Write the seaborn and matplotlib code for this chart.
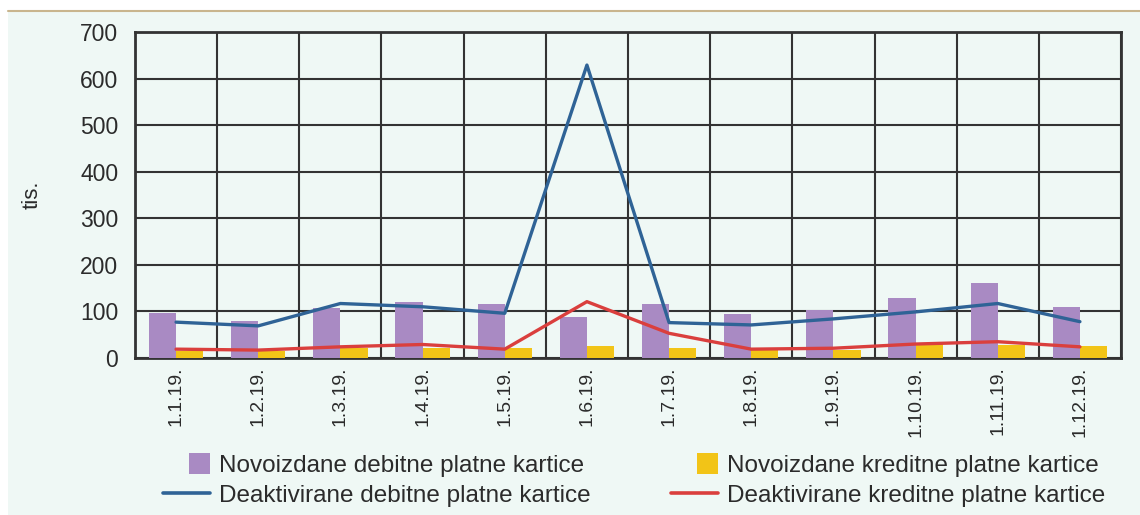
import matplotlib
matplotlib.use("Agg")
import matplotlib.pyplot as plt
import matplotlib.patches as mpatches
from matplotlib.lines import Line2D
from matplotlib.legend_handler import HandlerPatch
import seaborn as sns
import pandas as pd
import numpy as np

# Podaci (tis.)
mjeseci = ["1.1.19.", "1.2.19.", "1.3.19.", "1.4.19.", "1.5.19.", "1.6.19.",
           "1.7.19.", "1.8.19.", "1.9.19.", "1.10.19.", "1.11.19.", "1.12.19."]
novo_debitne = [96, 79, 107, 121, 115, 89, 117, 94, 103, 129, 162, 110]
novo_kreditne = [15, 15, 22, 22, 22, 26, 22, 21, 17, 30, 28, 26]
deakt_debitne = [77, 69, 117, 110, 96, 629, 76, 71, 84, 99, 117, 78]
deakt_kreditne = [19, 17, 24, 29, 19, 121, 53, 19, 21, 30, 35, 24]

lbl_nd = "Novoizdane debitne platne kartice"
lbl_nk = "Novoizdane kreditne platne kartice"
lbl_dd = "Deaktivirane debitne platne kartice"
lbl_dk = "Deaktivirane kreditne platne kartice"

c_purple = "#A98AC3"
c_yellow = "#F2C417"
c_blue = "#2F6396"
c_red = "#DA3F3D"
bg = "#EFF8F5"
ink = "#2b2b2b"

sns.set_theme(style="white")
plt.rcParams["font.family"] = ["Liberation Sans", "DejaVu Sans"]

bars = pd.DataFrame({
    "mjesec": mjeseci * 2,
    "vrijednost": novo_debitne + novo_kreditne,
    "serija": [lbl_nd] * len(mjeseci) + [lbl_nk] * len(mjeseci),
})

fig = plt.figure(figsize=(11.4, 5.15), dpi=100)
fig.patch.set_facecolor("white")
# pozadinski panel i gornja linija
fig.patches.append(mpatches.Rectangle((8 / 1140, 0), 1, 1 - 12 / 515, transform=fig.transFigure,
                                      facecolor=bg, edgecolor="none", zorder=-10))
fig.add_artist(Line2D([8 / 1140, 1], [1 - 11 / 515] * 2, transform=fig.transFigure,
                      color="#C9B58E", lw=1.5))

ax = fig.add_axes([135 / 1140, 1 - 358 / 515, (1121 - 135) / 1140, (358 - 32) / 515])
ax.set_facecolor(bg)

sns.barplot(data=bars, x="mjesec", y="vrijednost", hue="serija", order=mjeseci,
            palette=[c_purple, c_yellow], width=0.66, saturation=1, linewidth=0,
            ax=ax, legend=False, zorder=3)
sns.lineplot(x=mjeseci, y=deakt_debitne, color=c_blue, lw=2.4, ax=ax, zorder=4, sort=False)
sns.lineplot(x=mjeseci, y=deakt_kreditne, color=c_red, lw=2.4, ax=ax, zorder=4, sort=False)

ax.set_xlim(-0.5, len(mjeseci) - 0.5)
ax.set_ylim(0, 700)
ax.set_yticks(np.arange(0, 701, 100))
ax.set_xticks(np.arange(-0.5, len(mjeseci), 1), minor=True)
ax.grid(False)
ax.grid(True, axis="y", which="major", color="#333333", lw=1.5, zorder=1)
ax.grid(True, axis="x", which="minor", color="#333333", lw=1.5, zorder=1)
ax.set_axisbelow(True)
for s in ax.spines.values():
    s.set_visible(True)
    s.set_color("#333333")
    s.set_linewidth(2)

ax.tick_params(axis="both", which="both", length=0)
ax.tick_params(axis="y", labelsize=16.5, pad=12, labelcolor=ink)
ax.tick_params(axis="x", labelsize=14, pad=6, labelcolor=ink, labelrotation=90)
for t in ax.get_xticklabels():
    t.set_verticalalignment("top")
ax.set_xlabel("")
ax.set_ylabel("")
fig.text(32 / 1140, 1 - 195 / 515, "tis.", rotation=90, ha="center", va="center",
         fontsize=16, color=ink)


class SquareHandler(HandlerPatch):
    def create_artists(self, legend, orig_handle, xdescent, ydescent, width, height, fontsize, trans):
        size = 21 * 72 / 100
        x0 = width - size
        p = mpatches.Rectangle((x0 - xdescent, -ydescent + (height - size) / 2), size, size,
                               facecolor=orig_handle.get_facecolor(), edgecolor="none", transform=trans)
        return [p]


handles = [mpatches.Patch(color=c_purple, label=lbl_nd),
           Line2D([], [], color=c_blue, lw=2.6, label=lbl_dd),
           mpatches.Patch(color=c_yellow, label=lbl_nk),
           Line2D([], [], color=c_red, lw=2.6, label=lbl_dk)]
fig.legend(handles=handles, ncol=2, loc="center", bbox_to_anchor=(634 / 1140, 1 - 481 / 515),
           frameon=False, fontsize=17.5, handlelength=1.95, handletextpad=0.35,
           columnspacing=3.3, labelspacing=0.3, labelcolor=ink,
           handler_map={mpatches.Patch: SquareHandler()})

fig.savefig("out.png", dpi=100, facecolor=fig.get_facecolor())
